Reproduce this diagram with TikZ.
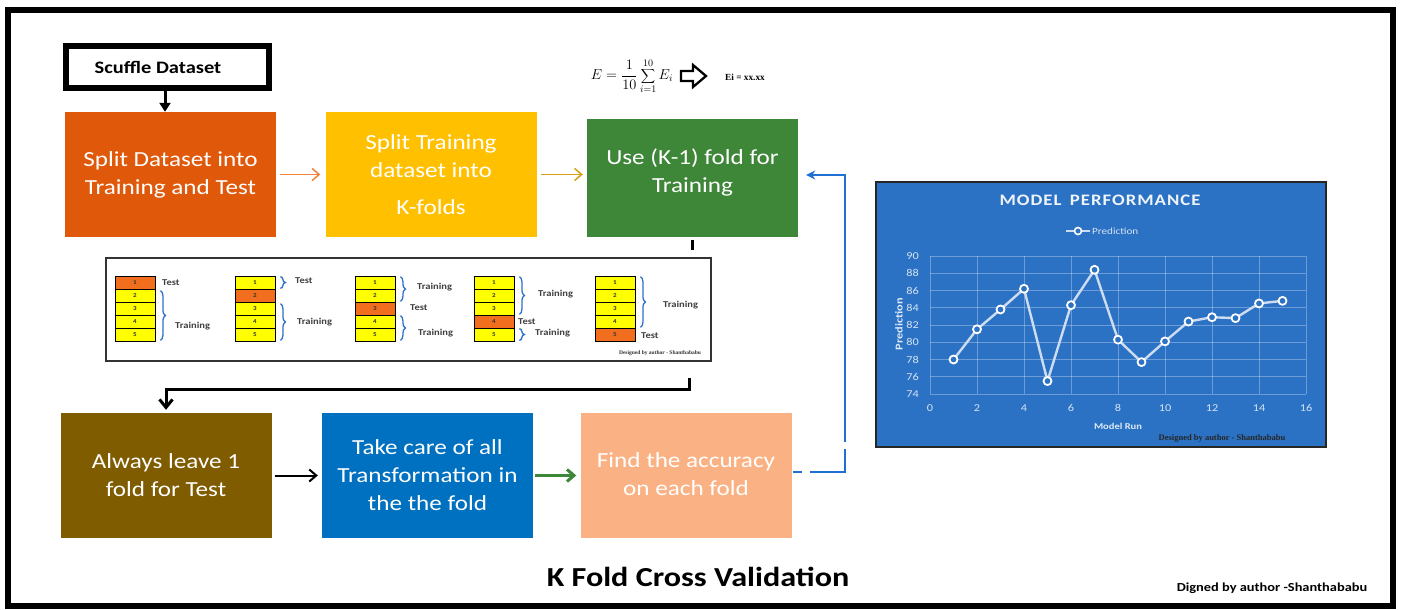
\documentclass[tikz,border=0pt]{standalone}
\usepackage{fontspec}
\setmainfont{Carlito}[FakeStretch=1.17]
\newfontfamily\serifbold{Liberation Serif}
\usetikzlibrary{arrows.meta,decorations.pathreplacing,calc}

\definecolor{splitorange}{RGB}{224,88,10}
\definecolor{foldyellow}{RGB}{255,192,0}
\definecolor{trgreen}{RGB}{62,134,56}
\definecolor{leavebrown}{RGB}{127,92,0}
\definecolor{careblue}{RGB}{0,112,192}
\definecolor{accpeach}{RGB}{250,178,132}
\definecolor{cellyellow}{RGB}{255,255,0}
\definecolor{celltest}{RGB}{240,110,30}
\definecolor{bracebl}{RGB}{46,112,200}
\definecolor{chartbg}{RGB}{44,114,196}
\definecolor{loopblue}{RGB}{30,112,210}
\definecolor{arrorange}{RGB}{245,130,60}
\definecolor{arrgold}{RGB}{215,160,20}
\definecolor{plotline}{RGB}{205,220,240}

\tikzset{
  stepbox/.style={minimum width=211pt, minimum height=125pt, inner sep=0pt,
    text=white, align=center, font=\fontsize{21.5}{28}\selectfont},
  steptext/.style={inner sep=0pt, text=white, align=center, font=\fontsize{21.5}{28}\selectfont},
  cell/.style={draw=black, line width=0.8pt, minimum width=40pt, minimum height=13pt,
    inner sep=0pt, font=\fontsize{6}{6}\selectfont\bfseries, text=black!80},
  foldbrace/.style={decorate, decoration={brace, amplitude=5pt}, draw=bracebl, line width=1.3pt},
  foldlabel/.style={anchor=west, inner sep=0pt, font=\fontsize{9}{9}\selectfont\bfseries, text=black!75},
  thinarrow/.style={line width=1.8pt, -{Straight Barb[length=7pt,width=12pt]}},
  blackconn/.style={line width=3pt, draw=black},
  gridline/.style={draw=white, opacity=0.3, line width=0.9pt},
  ticklabel/.style={font=\fontsize{10.5}{10.5}\selectfont, text=white!80!chartbg},
}

\begin{document}
\begin{tikzpicture}[x=1pt,y=-1pt]
\useasboundingbox (0,0) rectangle (1402,610);
\fill[white] (0,0) rectangle (1402,610);

% outer frame
\draw[line width=5.5pt] (8,10) rectangle (1393,606);

% top row of steps
\node[draw=black, line width=6pt, minimum width=203pt, minimum height=42pt, inner sep=0pt] (scuffle) at (167.5,67) {};
\node[font=\fontsize{17.5}{17.5}\selectfont\bfseries] (scuffletext) at (158,67) {Scuffle Dataset};

\node[stepbox, fill=splitorange] (split) at (170.5,174.5) {Split Dataset into\\Training and Test};
\node[stepbox, fill=foldyellow] (kfold) at (431,174.5) {Split Training\\dataset into\\[9pt]K-folds};
\node[stepbox, fill=trgreen, minimum height=118pt] (usek) at (692.5,177.5) {};
\node[steptext] (usektext) at (692.5,172) {Use (K-1) fold for\\Training};

% bottom row of steps
\node[stepbox, fill=leavebrown] (leave) at (166,475.5) {Always leave 1\\fold for Test};
\node[stepbox, fill=careblue] (care) at (427.5,475.5) {Take care of all\\Transformation in\\the the fold};
\node[stepbox, fill=accpeach] (acc) at (686,475.5) {};
\node[steptext] (acctext) at (686,474) {Find the accuracy\\on each fold};

% formula
\node[font=\fontsize{14}{16}\selectfont] (formula) at (632,76) {$\displaystyle E=\frac{1}{10}\sum_{i=1}^{10}E_i$};
\draw[line width=2.3pt, fill=white, line join=miter]
  (681,71) -- (693,71) -- (693,65) -- (706,76) -- (693,87) -- (693,81) -- (681,81) -- cycle;
\node[font=\serifbold\fontsize{9.3}{9.3}\selectfont\bfseries] (eival) at (745,77) {Ei = xx.xx};

% fold panel
\node[draw=black!80, line width=2.5pt, minimum width=605pt, minimum height=103pt, inner sep=0pt] (panel) at (408.5,309.5) {};

\foreach \c/\x in {1/115,2/235,3/355,4/474,5/595}{
  \foreach \r in {1,...,5}{
    \ifnum\r=\c \def\fillcol{celltest}\else\def\fillcol{cellyellow}\fi
    \node[cell, fill=\fillcol] (cell\c\r) at ({\x+20},{269.5+13*\r}) {\r};
  }
}

% fold 1
\draw[foldbrace] ($(cell12.north east)+(5,2)$) -- ($(cell15.south east)+(5,-1)$);
\node[foldlabel] (t1) at (162,283) {Test};
\node[foldlabel] (tr1) at (175,326) {Training};
% fold 2
\draw[foldbrace] ($(cell21.north east)+(5,1)$) -- ($(cell21.south east)+(5,-1)$);
\node[foldlabel] (t2) at (295,281) {Test};
\draw[foldbrace] ($(cell23.north east)+(5,2)$) -- ($(cell25.south east)+(5,-1)$);
\node[foldlabel] (tr2) at (297,322) {Training};
% fold 3
\draw[foldbrace] ($(cell31.north east)+(5,1)$) -- ($(cell32.south east)+(5,-1)$);
\node[foldlabel] (tr3a) at (417,287) {Training};
\node[foldlabel] (t3) at (410,308) {Test};
\draw[foldbrace] ($(cell34.north east)+(5,1)$) -- ($(cell35.south east)+(5,-1)$);
\node[foldlabel] (tr3b) at (418,333) {Training};
% fold 4
\draw[foldbrace] ($(cell41.north east)+(5,1)$) -- ($(cell43.south east)+(5,-1)$);
\node[foldlabel] (tr4a) at (538,294) {Training};
\node[foldlabel] (t4) at (518,322) {Test};
\draw[foldbrace] ($(cell45.north east)+(5,1)$) -- ($(cell45.south east)+(5,-1)$);
\node[foldlabel] (tr4b) at (535,333) {Training};
% fold 5
\draw[foldbrace] ($(cell51.north east)+(5,1)$) -- ($(cell54.south east)+(5,-1)$);
\node[foldlabel] (tr5) at (663,305) {Training};
\node[foldlabel] (t5) at (641,336) {Test};

\node[font=\serifbold\fontsize{5.5}{5.5}\selectfont\bfseries, text=black!80] (panelcredit) at (660,353) {Designed by author - Shanthababu};

% connectors
\draw[blackconn, -{Triangle[length=9pt,width=11pt]}] (scuffle.south -| 165,0) -- (split.north -| 165,0);
\draw[thinarrow, draw=arrorange, line width=1.5pt] ([xshift=4pt]split.east) -- ([xshift=-5pt]kfold.east -| kfold.west);
\draw[thinarrow, draw=arrgold, line width=1.5pt] ([xshift=4pt]kfold.east) -- ([xshift=-4pt]usek.west |- kfold.east);
\draw[blackconn] ($(usek.south)+(0,3)$) -- ($(usek.south)+(0,13)$);
\coordinate (panelout) at ($(panel.south east)+(-23,16)$);
\draw[blackconn, line join=miter, -{Straight Barb[length=8pt,width=13pt]}]
  (panelout) -- ++(0,11) -| ($(leave.north)+(0,-3)$);
\draw[thinarrow, draw=black, line width=2pt] ([xshift=3pt]leave.east) -- ([xshift=-4pt]care.west);
\draw[thinarrow, draw=trgreen, line width=3pt] ([xshift=2pt]care.east) -- ([xshift=-4pt]acc.west);
\coordinate (loopcorner) at (845,472);
\draw[loopblue, line width=2.5pt, dash pattern=on 9pt off 8pt on 58pt off 7pt on 1000pt off 1pt,
  -{Stealth[length=9pt,width=9pt]}]
  ($(acc.east)+(1,-3.5)$) -- (loopcorner) |- ($(usek.east)+(8,-2.5)$);

% chart
\node[draw=black!85, line width=2.5pt, fill=chartbg, minimum width=450pt, minimum height=265pt, inner sep=0pt] (chart) at (1101,314.5) {};
\node[font=\fontsize{16}{16}\selectfont\bfseries, text=white!92!chartbg] (charttitle) at (1100,200) {M\kern1pt O\kern1pt D\kern1pt E\kern1pt L\ \ P\kern1pt E\kern1pt R\kern1pt F\kern1pt O\kern1pt R\kern1pt M\kern1pt A\kern1pt N\kern1pt C\kern1pt E};
\draw[draw=plotline, line width=1.6pt] (1066,231) -- (1090,231);
\node[circle, draw=white, line width=1.6pt, fill=chartbg, minimum size=7pt, inner sep=0pt] (legmark) at (1078,231) {};
\node[anchor=west, inner sep=0pt, font=\fontsize{9.5}{9.5}\selectfont, text=white!80!chartbg] (legtext) at (1092,231) {Prediction};

\begin{scope}[shift={(930,394)}, x=23.5pt, y=8.625pt]
  \foreach \gx in {0,2,...,16}{
    \draw[gridline] (\gx,0) -- (\gx,16);
    \node[ticklabel, anchor=north] (xl\gx) at (\gx,-0.8) {\gx};
  }
  \foreach \gy in {0,2,...,16}{
    \draw[gridline] (0,\gy) -- (16,\gy);
    \pgfmathtruncatemacro\ylab{74+\gy}
    \node[ticklabel, anchor=east] (yl\gy) at (-0.33,\gy) {\ylab};
  }
  \draw[draw=plotline, line width=2.4pt, line join=round,
    mark=*, mark size=4pt, mark options={draw=white, fill=chartbg, line width=1.8pt}]
    plot coordinates {(1,4) (2,7.5) (3,9.8) (4,12.2) (5,1.5) (6,10.3) (7,14.4) (8,6.3)
      (9,3.7) (10,6.1) (11,8.4) (12,8.9) (13,8.8) (14,10.5) (15,10.8)};
\end{scope}
\node[rotate=90, font=\fontsize{10.5}{10.5}\selectfont\bfseries, text=white!85!chartbg] (ytitle) at (899,324) {Prediction};
\node[font=\fontsize{9}{9}\selectfont\bfseries, text=white!85!chartbg] (xtitle) at (1118,426) {Model Run};
\node[font=\serifbold\fontsize{8.5}{8.5}\selectfont\bfseries, text=black!85] (chartcredit) at (1222,438) {Designed by author - Shanthababu};

% captions
\node[font=\fontsize{27.5}{30}\selectfont\bfseries] (caption) at (698,577) {K Fold Cross Validation};
\node[font=\fontsize{12.3}{13}\selectfont\bfseries] (credit) at (1272,588) {Digned by author -Shanthababu};
\end{tikzpicture}
\end{document}
